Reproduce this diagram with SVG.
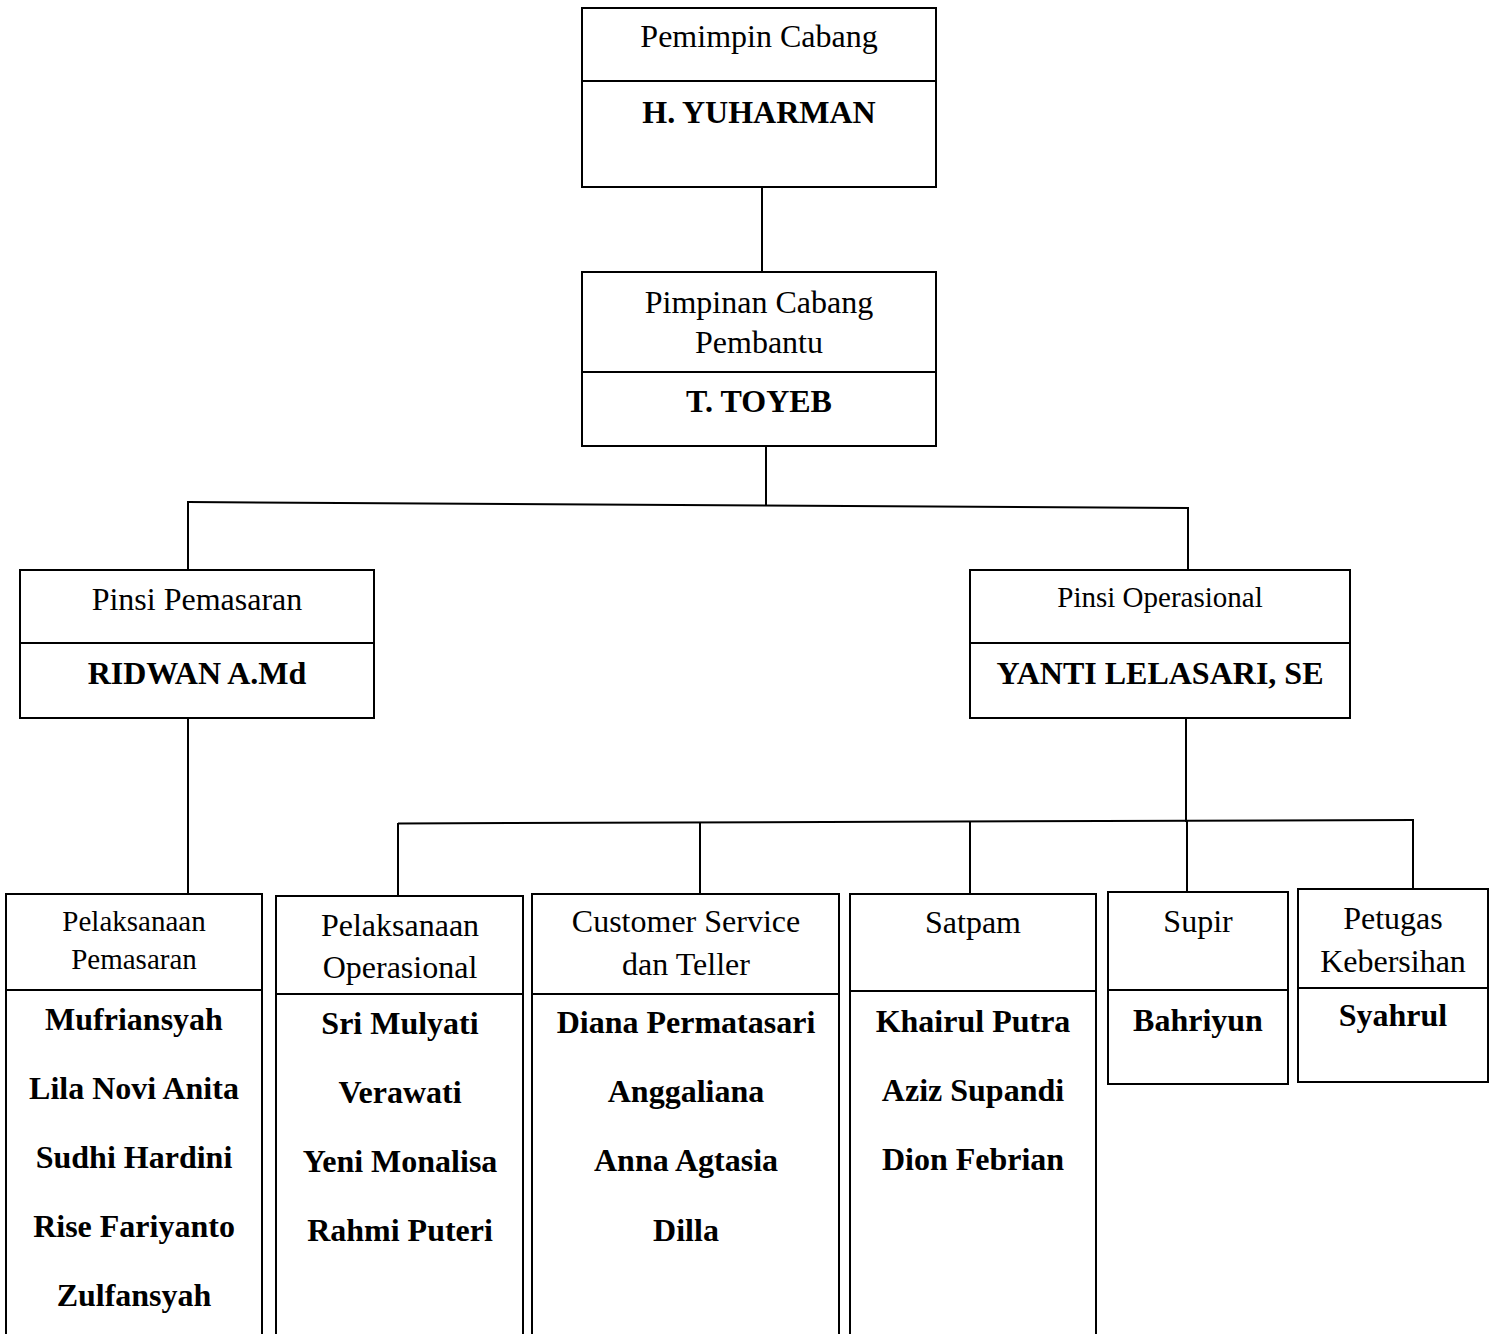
<svg xmlns="http://www.w3.org/2000/svg" width="1492" height="1334" viewBox="0 0 1492 1334">
<style>
.box{fill:#fff;stroke:#000;stroke-width:2}
.div{stroke:#000;stroke-width:2}
.con{stroke:#000;stroke-width:2;fill:none}
text{font-family:"Liberation Serif","Times New Roman",serif;fill:#000;text-anchor:middle}
.t{font-size:32px}
.ts{font-size:29px}
.n{font-size:32px;font-weight:bold}
</style>
<rect width="1492" height="1334" fill="#fff"/>
<g id="connectors">
<line class="con" x1="762" y1="187" x2="762" y2="271"/>
<line class="con" x1="766" y1="446" x2="766" y2="505"/>
<line class="con" x1="188" y1="502" x2="1188" y2="508"/>
<line class="con" x1="188" y1="501" x2="188" y2="570"/>
<line class="con" x1="1188" y1="507" x2="1188" y2="570"/>
<line class="con" x1="188" y1="718" x2="188" y2="894"/>
<line class="con" x1="1186" y1="718" x2="1186" y2="822"/>
<line class="con" x1="398" y1="823.5" x2="1414" y2="820"/>
<line class="con" x1="398" y1="823" x2="398" y2="896"/>
<line class="con" x1="700" y1="822" x2="700" y2="894"/>
<line class="con" x1="970" y1="822" x2="970" y2="894"/>
<line class="con" x1="1187" y1="821" x2="1187" y2="892"/>
<line class="con" x1="1413" y1="819" x2="1413" y2="889"/>
</g>
<g id="pemimpin">
<rect class="box" x="582" y="8" width="354" height="179"/>
<line class="div" x1="582" y1="81" x2="936" y2="81"/>
<text class="t" x="759" y="47">Pemimpin Cabang</text>
<text class="n" x="759" y="123">H. YUHARMAN</text>
</g>
<g id="pimpinan">
<rect class="box" x="582" y="272" width="354" height="174"/>
<line class="div" x1="582" y1="372" x2="936" y2="372"/>
<text class="t" x="759" y="313">Pimpinan Cabang</text>
<text class="t" x="759" y="353">Pembantu</text>
<text class="n" x="759" y="412">T. TOYEB</text>
</g>
<g id="pinsi-pemasaran">
<rect class="box" x="20" y="570" width="354" height="148"/>
<line class="div" x1="20" y1="643" x2="374" y2="643"/>
<text class="t" x="197" y="610">Pinsi Pemasaran</text>
<text class="n" x="197" y="684">RIDWAN A.Md</text>
</g>
<g id="pinsi-operasional">
<rect class="box" x="970" y="570" width="380" height="148"/>
<line class="div" x1="970" y1="643" x2="1350" y2="643"/>
<text class="ts" x="1160" y="607">Pinsi Operasional</text>
<text class="n" x="1160" y="684">YANTI LELASARI, SE</text>
</g>
<g id="pelaksanaan-pemasaran">
<rect class="box" x="6" y="894" width="256" height="460"/>
<line class="div" x1="6" y1="990" x2="262" y2="990"/>
<text class="ts" x="134" y="931">Pelaksanaan</text>
<text class="ts" x="134" y="969">Pemasaran</text>
<text class="n" x="134" y="1030">Mufriansyah</text>
<text class="n" x="134" y="1099">Lila Novi Anita</text>
<text class="n" x="134" y="1168">Sudhi Hardini</text>
<text class="n" x="134" y="1237">Rise Fariyanto</text>
<text class="n" x="134" y="1306">Zulfansyah</text>
</g>
<g id="pelaksanaan-operasional">
<rect class="box" x="276" y="896" width="247" height="460"/>
<line class="div" x1="276" y1="994" x2="523" y2="994"/>
<text class="t" x="400" y="936">Pelaksanaan</text>
<text class="t" x="400" y="978">Operasional</text>
<text class="n" x="400" y="1034">Sri Mulyati</text>
<text class="n" x="400" y="1103">Verawati</text>
<text class="n" x="400" y="1172">Yeni Monalisa</text>
<text class="n" x="400" y="1241">Rahmi Puteri</text>
</g>
<g id="customer-service">
<rect class="box" x="532" y="894" width="307" height="460"/>
<line class="div" x1="532" y1="994" x2="839" y2="994"/>
<text class="t" x="686" y="932">Customer Service</text>
<text class="t" x="686" y="975">dan Teller</text>
<text class="n" x="686" y="1033">Diana Permatasari</text>
<text class="n" x="686" y="1102">Anggaliana</text>
<text class="n" x="686" y="1171">Anna Agtasia</text>
<text class="n" x="686" y="1241">Dilla</text>
</g>
<g id="satpam">
<rect class="box" x="850" y="894" width="246" height="460"/>
<line class="div" x1="850" y1="991" x2="1096" y2="991"/>
<text class="t" x="973" y="933">Satpam</text>
<text class="n" x="973" y="1032">Khairul Putra</text>
<text class="n" x="973" y="1101">Aziz Supandi</text>
<text class="n" x="973" y="1170">Dion Febrian</text>
</g>
<g id="supir">
<rect class="box" x="1108" y="892" width="180" height="192"/>
<line class="div" x1="1108" y1="990" x2="1288" y2="990"/>
<text class="t" x="1198" y="932">Supir</text>
<text class="n" x="1198" y="1031">Bahriyun</text>
</g>
<g id="petugas-kebersihan">
<rect class="box" x="1298" y="889" width="190" height="193"/>
<line class="div" x1="1298" y1="988" x2="1488" y2="988"/>
<text class="t" x="1393" y="929">Petugas</text>
<text class="t" x="1393" y="972">Kebersihan</text>
<text class="n" x="1393" y="1026">Syahrul</text>
</g>
</svg>
